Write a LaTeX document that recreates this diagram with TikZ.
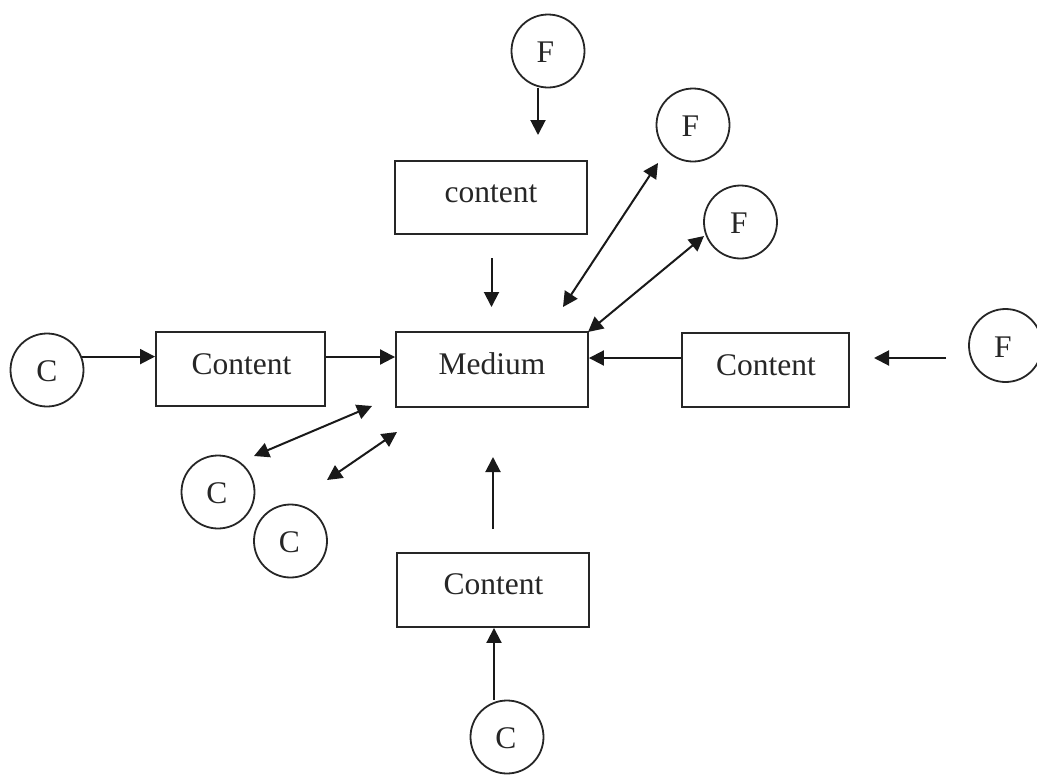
\documentclass[tikz,border=0pt]{standalone}
\usepackage{fontspec}
\setmainfont{Liberation Serif}
\usetikzlibrary{arrows.meta}
\newcommand\lbl[3]{\raisebox{#2pt}[0pt][0pt]{\makebox[0pt]{\hspace*{#1pt}\hspace*{#1pt}#3}}}
\tikzset{
  x=1pt,y=-1pt,
  every node/.style={font=\fontsize{31.5}{34}\selectfont,text=black!85},
  circ/.style={draw=black!85,line width=1.8pt,circle,minimum size=73pt,inner sep=0pt},
  boxn/.style={draw=black!85,line width=1.9pt,rectangle,inner sep=0pt},
  conn/.style={draw=black!90,line width=2pt,-{Triangle[length=15pt,width=15pt]}},
  both/.style={draw=black!90,line width=2pt,{Triangle[length=15pt,width=15pt]}-{Triangle[length=15pt,width=15pt]}}
}
\begin{document}
\begin{tikzpicture}
\useasboundingbox (0,0) rectangle (1037,777);
\node[circ] (f1) at (548,51) {\lbl{-2.5}{-11}{F}};
\node[circ] (f2) at (693,125) {\lbl{-2.5}{-11}{F}};
\node[circ] (f3) at (740.5,222) {\lbl{-1.5}{-11}{F}};
\node[circ] (f4) at (1005.5,345.5) {\lbl{-2.5}{-11.5}{F}};
\node[circ] (c1) at (47,370) {\lbl{0}{-11}{C}};
\node[circ] (c2) at (218,492) {\lbl{-1}{-11}{C}};
\node[circ] (c3) at (290.5,541) {\lbl{-1}{-11}{C}};
\node[circ] (c4) at (507,737) {\lbl{-1}{-11}{C}};
\node[boxn,minimum width=192pt,minimum height=73pt] (top) at (491,197.5) {\lbl{0}{-4.5}{content}};
\node[boxn,minimum width=192pt,minimum height=75pt] (med) at (492,369.5) {\lbl{0}{-4.5}{Medium}};
\node[boxn,minimum width=169pt,minimum height=74pt] (lft) at (240.5,369) {\lbl{1}{-5}{Content}};
\node[boxn,minimum width=167pt,minimum height=74pt] (rgt) at (765.5,370) {\lbl{0.5}{-5}{Content}};
\node[boxn,minimum width=192pt,minimum height=74pt] (bot) at (493,590) {\lbl{0.5}{-4}{Content}};
\coordinate (a2) at (538,135);
\coordinate (b1) at (491.5,258);
\coordinate (b2) at (491.5,307);
\coordinate (d1) at (563,307);
\coordinate (d2) at (658,163);
\coordinate (e1) at (588,332);
\coordinate (e2) at (704,236);
\coordinate (g1) at (946,358);
\coordinate (g2) at (874,358);
\coordinate (h1) at (493,529);
\coordinate (h2) at (493,457);
\coordinate (i1) at (254,456);
\coordinate (i2) at (372,406);
\coordinate (j1) at (327,480);
\coordinate (j2) at (397,432);
\draw[conn] (f1.south -| a2) -- (a2);
\draw[conn] (b1) -- (b2);
\draw[both] (d1) -- (d2);
\draw[both] (e1) -- (e2);
\draw[conn] (g1) -- (g2);
\draw[conn] (h1) -- (h2);
\draw[both] (i1) -- (i2);
\draw[both] (j1) -- (j2);
\coordinate (k) at (0,357);
\coordinate (m) at (0,358);
\coordinate (n) at (494,0);
\draw[conn] (c1.21) -- (lft.west |- c1.21);
\draw[conn] (lft.east |- k) -- (med.west |- k);
\draw[conn] (rgt.west |- m) -- (med.east |- m);
\draw[conn] (n |- c4.north) -- (n |- bot.south);
\end{tikzpicture}
\end{document}
